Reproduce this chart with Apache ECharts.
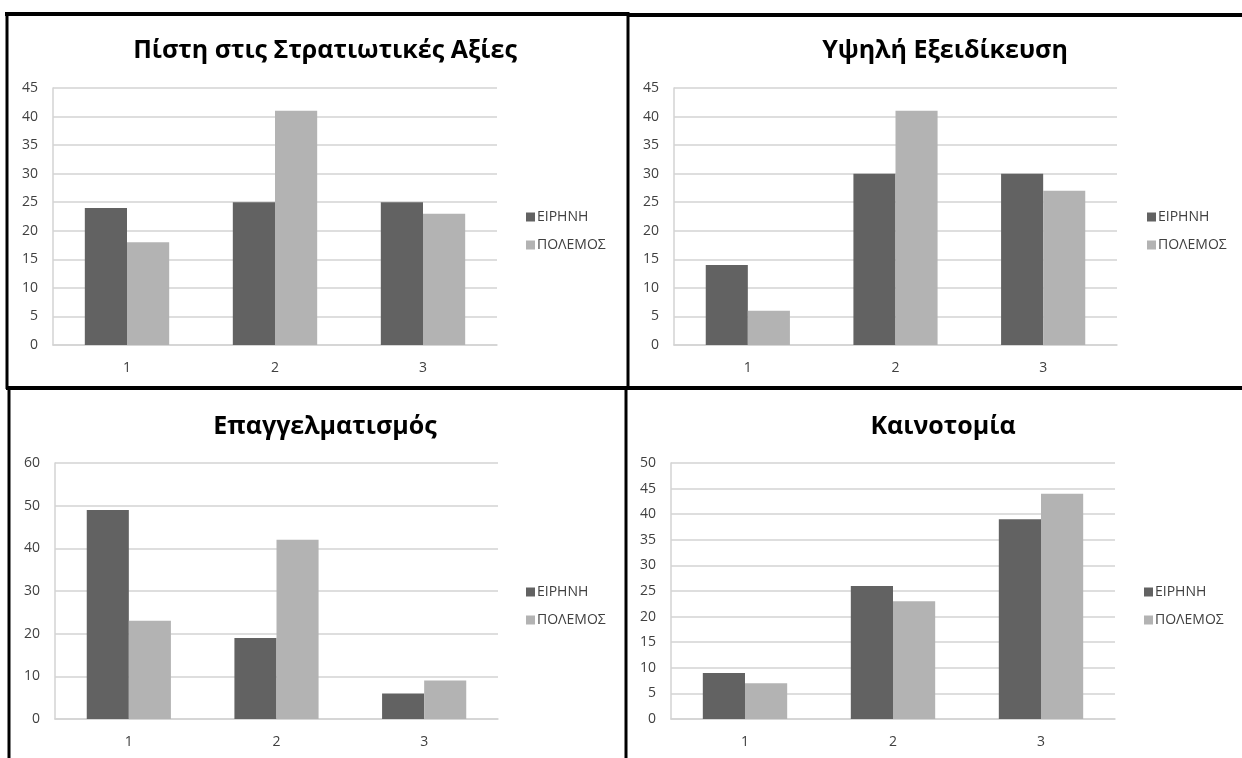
<!DOCTYPE html>
<html>
<head>
<meta charset="utf-8">
<script src="https://cdn.jsdelivr.net/npm/echarts@6/dist/echarts.min.js"></script>
<style>
html,body{margin:0;padding:0;background:#fff;}
#chart{width:1242px;height:758px;}
</style>
</head>
<body>
<div id="chart"></div>
<script>
const categories = ['1', '2', '3'];
const seriesNames = ['ΕΙΡΗΝΗ', 'ΠΟΛΕΜΟΣ'];
const panelTitles = ['Πίστη στις Στρατιωτικές Αξίες', 'Υψηλή Εξειδίκευση', 'Επαγγελματισμός', 'Καινοτομία'];

const pistiPeace = [24, 25, 25];
const pistiWar = [18, 41, 23];
const eksidikeusiPeace = [14, 30, 30];
const eksidikeusiWar = [6, 41, 27];
const epaggelmatismosPeace = [49, 19, 6];
const epaggelmatismosWar = [23, 42, 9];
const kainotomiaPeace = [9, 26, 39];
const kainotomiaWar = [7, 23, 44];

const yMax = [45, 45, 60, 50];
const yInterval = [5, 5, 10, 5];

const panelData = [
  [pistiPeace, pistiWar],
  [eksidikeusiPeace, eksidikeusiWar],
  [epaggelmatismosPeace, epaggelmatismosWar],
  [kainotomiaPeace, kainotomiaWar]
];

const grids = [
  {left: 53, top: 88, width: 444, height: 257},
  {left: 674, top: 88, width: 443, height: 257},
  {left: 55, top: 463, width: 443, height: 256},
  {left: 671, top: 463, width: 444, height: 256}
];
const titlePos = [[320, 33], [940, 33], [320, 409], [938, 409]];
const legendPos = [[521, 205], [1142, 205], [521, 580], [1139, 580]];

const darkColor = '#626262';
const lightColor = '#b3b3b3';
const gridColor = '#d3d3d3';
const labelColor = '#404040';
const font = 'Open Sans';

const chart = echarts.init(document.getElementById('chart'), null, {renderer: 'canvas'});

const option = {
  backgroundColor: '#ffffff',
  animation: false,
  title: panelTitles.map((t, i) => ({
    text: t,
    left: titlePos[i][0],
    top: titlePos[i][1],
    textAlign: 'center',
    textStyle: {fontFamily: font, fontWeight: 'bold', fontSize: 25, color: '#000'}
  })),
  legend: legendPos.map((p, i) => ({
    data: seriesNames,
    orient: 'vertical',
    left: p[0],
    top: p[1],
    itemWidth: 9,
    itemHeight: 9,
    itemGap: 14,
    icon: 'rect',
    textStyle: {fontFamily: font, fontSize: 14, color: labelColor, padding: [0, 0, 0, -3]}
  })),
  grid: grids.map(g => Object.assign({containLabel: false}, g)),
  xAxis: grids.map((g, i) => ({
    type: 'category',
    gridIndex: i,
    data: categories,
    axisLine: {show: true, lineStyle: {color: gridColor, width: 1.5}},
    axisTick: {show: false},
    axisLabel: {color: labelColor, fontFamily: font, fontSize: 14, margin: 16}
  })),
  yAxis: grids.map((g, i) => ({
    type: 'value',
    gridIndex: i,
    min: 0,
    max: yMax[i],
    interval: yInterval[i],
    axisLine: {show: true, lineStyle: {color: gridColor, width: 1.5}},
    axisTick: {show: false},
    splitLine: {show: true, lineStyle: {color: gridColor, width: 1.5}},
    axisLabel: {color: labelColor, fontFamily: font, fontSize: 14, margin: 15}
  })),
  series: []
};

panelData.forEach((pair, i) => {
  pair.forEach((vals, k) => {
    option.series.push({
      type: 'bar',
      name: seriesNames[k],
      xAxisIndex: i,
      yAxisIndex: i,
      data: vals,
      barGap: '0%',
      barCategoryGap: '43%',
      itemStyle: {color: k === 0 ? darkColor : lightColor}
    });
  });
});

option.graphic = [
  {type: 'line', shape: {x1: 5, y1: 14, x2: 629, y2: 14}, style: {stroke: '#000', lineWidth: 4}},
  {type: 'line', shape: {x1: 627, y1: 15, x2: 1242, y2: 15}, style: {stroke: '#000', lineWidth: 4}},
  {type: 'line', shape: {x1: 7, y1: 12, x2: 7, y2: 389}, style: {stroke: '#000', lineWidth: 3}},
  {type: 'line', shape: {x1: 9, y1: 386, x2: 9, y2: 758}, style: {stroke: '#000', lineWidth: 3}},
  {type: 'line', shape: {x1: 628, y1: 12, x2: 628, y2: 389}, style: {stroke: '#000', lineWidth: 3}},
  {type: 'line', shape: {x1: 626, y1: 386, x2: 626, y2: 758}, style: {stroke: '#000', lineWidth: 3}},
  {type: 'line', shape: {x1: 6, y1: 388, x2: 1242, y2: 388}, style: {stroke: '#000', lineWidth: 4}}
];

chart.setOption(option);
</script>
</body>
</html>
